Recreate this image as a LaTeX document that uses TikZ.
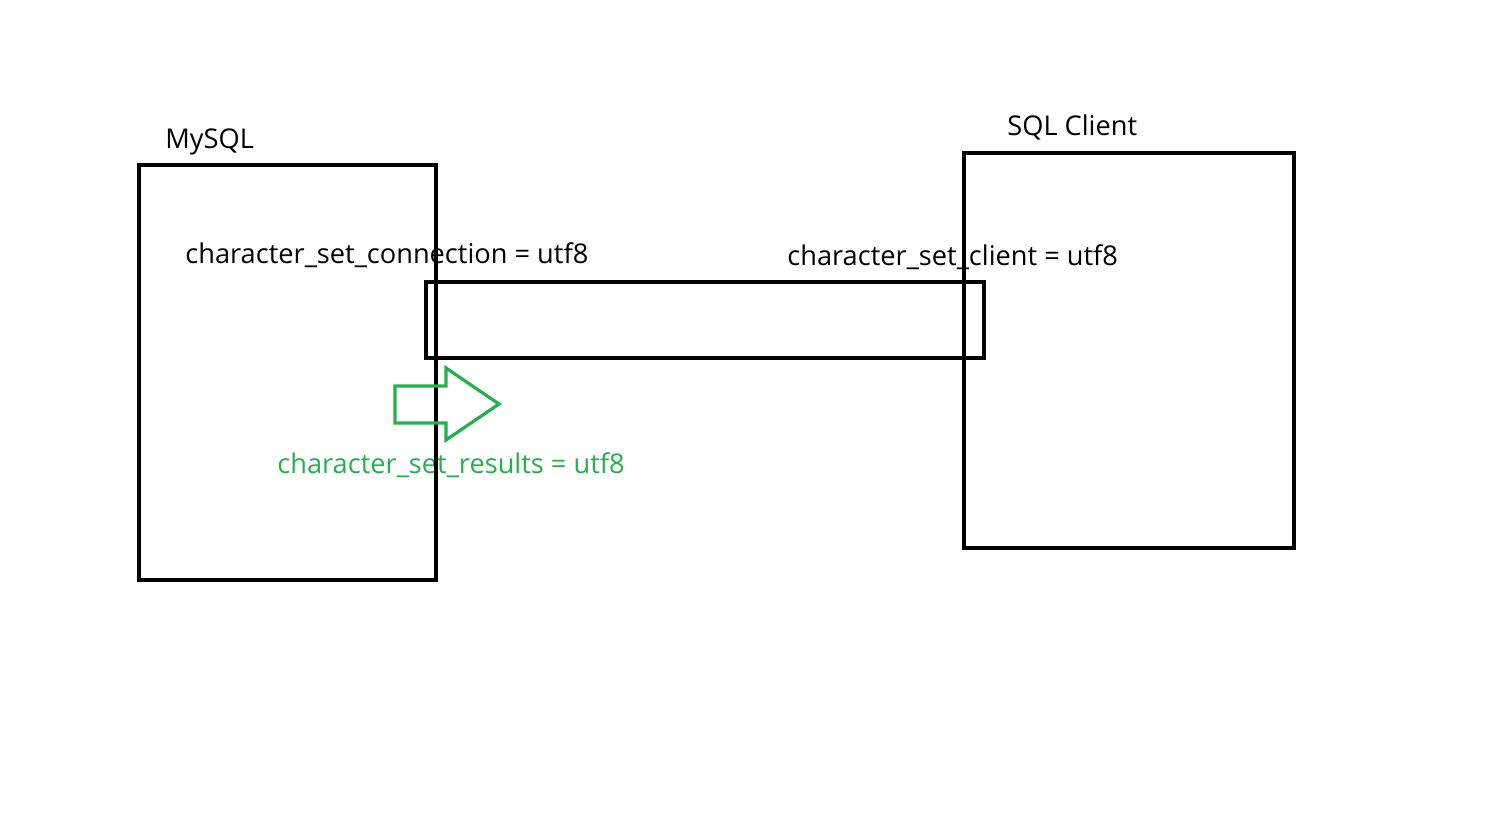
\documentclass[tikz,border=0pt]{standalone}
\usepackage{fontspec}
\setmainfont{Open Sans}
\definecolor{pgreen}{HTML}{22B14C}
\tikzset{
  lbl/.style={anchor=base west, inner sep=0pt, font=\fontsize{13.6}{15}\selectfont},
  boxline/.style={draw=black, line width=2.1pt},
  garrow/.style={draw=pgreen, line width=1.6pt, line join=miter}
}
\begin{document}
\begin{tikzpicture}[x=0.5pt, y=-0.5pt]
\useasboundingbox (0,0) rectangle (1494,819);
% labels
\node[lbl] (mysqllbl) at (165,148) {MySQL};
\node[lbl] (clientlbl) at (1007,135) {SQL Client};
\node[lbl] (conn) at (185,263) {character\_set\_connection = utf8};
\node[lbl] (cli) at (787,265) {character\_set\_client = utf8};
\node[lbl, text=pgreen] (res) at (277,473) {character\_set\_results = utf8};
% boxes
\draw[boxline] (139,165) rectangle (436,580);
\draw[boxline] (964,153) rectangle (1294,548);
\draw[boxline] (426,282) rectangle (984,358);
% green arrow
\draw[garrow] (395,386) -- (446,386) -- (446,368) -- (499,404) -- (446,440) -- (446,423) -- (395,423) -- cycle;
\end{tikzpicture}
\end{document}
